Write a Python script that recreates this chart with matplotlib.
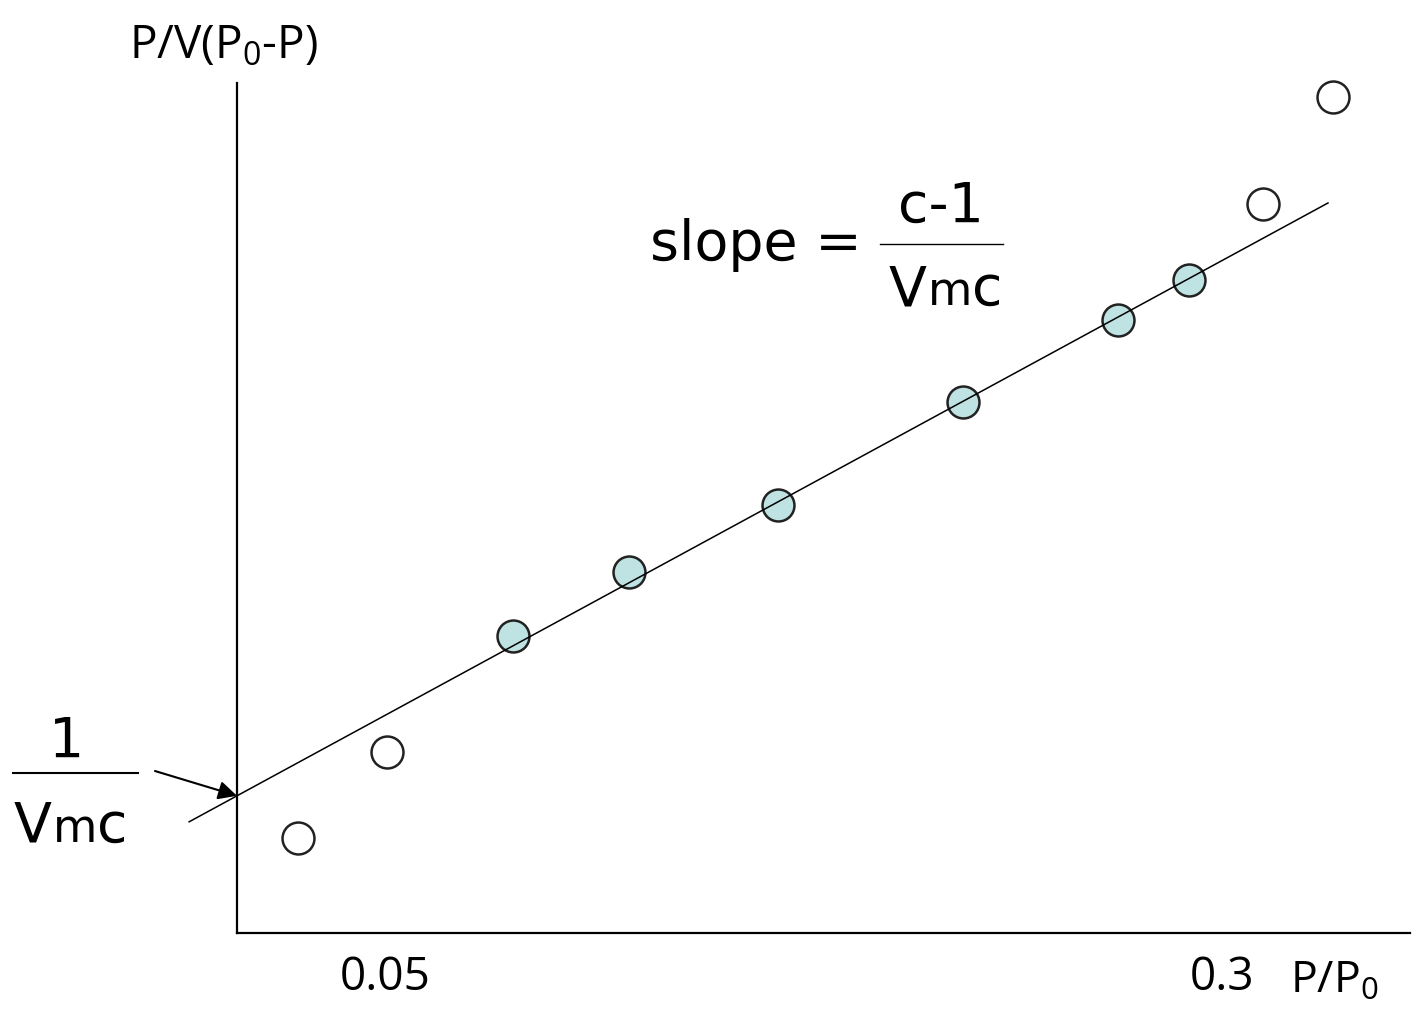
import numpy as np
import matplotlib
matplotlib.use("Agg")
import matplotlib.pyplot as plt
from matplotlib.lines import Line2D

plt.rcParams['mathtext.fontset'] = 'custom'
plt.rcParams['mathtext.rm'] = 'Open Sans'

# BET plot data (schematic)
open_x = [0.024, 0.0506, 0.3123, 0.3332]
open_y = [0.112, 0.213, 0.858, 0.984]
fit_x = [0.0882, 0.1229, 0.1674, 0.2227, 0.2689, 0.2902]
fit_y = [0.349, 0.425, 0.504, 0.625, 0.721, 0.768]
slope = 2.14
intercept = 0.149
line_ends = [-0.0085, 0.3317]
tick_pos = [0.05, 0.3]
tick_labels = ["0.05", "0.3"]

W, H = 1412, 1010
fig = plt.figure(figsize=(W / 100, H / 100), dpi=100)
ax = fig.add_axes([237 / W, 77 / H, 1173 / W, 850 / H])
ax.set_xlim(0.0058, 0.3562)
ax.set_ylim(0, 1.0)
for s in ["top", "right"]:
    ax.spines[s].set_visible(False)
for s in ["left", "bottom"]:
    ax.spines[s].set_linewidth(1.6)
ax.set_yticks([])
ax.set_xticks(tick_pos)
ax.set_xticklabels(tick_labels, fontfamily="Open Sans", fontsize=33)
ax.tick_params(axis="x", length=0, pad=16)

lx = np.array(line_ends)
ax.plot(open_x, open_y, "o", ms=23, mfc="white", mec="#222222", mew=1.8,
        zorder=2, clip_on=False)
ax.plot(fit_x, fit_y, "o", ms=23, mfc="#bfe2e2", mec="#222222", mew=1.8,
        zorder=2, clip_on=False)
ax.plot(lx, intercept + slope * lx, color="black", lw=1.1, clip_on=False, zorder=3)


def fp(x, y):
    return x / W, 1 - y / H


fig.text(*fp(129, 58), r"P/V(P$_\mathregular{0}$-P)", fontfamily="Open Sans",
         fontsize=33, ha="left", va="baseline")
fig.text(*fp(1290, 993), r"P/P$_\mathregular{0}$", fontfamily="Open Sans",
         fontsize=32, ha="left", va="baseline")

renderer = fig.canvas.get_renderer()


def vmc(x, y, fs):
    # V, small m, c on one baseline
    px = x
    for ch, size, gap in [("V", fs, 1), ("m", fs * 0.82, 0), ("c", fs, 0)]:
        t = fig.text(*fp(px, y), ch, fontsize=size, ha="left", va="baseline")
        px += t.get_window_extent(renderer).width + gap


# left fraction 1 / Vmc
fs = 40
fig.text(*fp(67, 757), "1", fontsize=fs, ha="center", va="baseline")
fig.add_artist(Line2D([13 / W, 138 / W], [1 - 773 / H] * 2, color="black", lw=1.5))
vmc(14, 842, fs)

ax.annotate("", xy=(0.0058, intercept + slope * 0.0058), xycoords="data",
            xytext=fp(155, 771), textcoords="figure fraction",
            arrowprops=dict(arrowstyle="-|>", color="black", lw=1.5,
                            mutation_scale=28, shrinkA=0, shrinkB=0))

# slope fraction
fig.text(*fp(650, 260), "slope =", fontsize=fs, ha="left", va="baseline")
fig.text(*fp(941, 222), "c-1", fontsize=fs, ha="center", va="baseline")
fig.add_artist(Line2D([880 / W, 1003 / W], [1 - 244 / H] * 2, color="black", lw=1.0))
vmc(889, 305, fs)

fig.savefig("out.png", dpi=100)
